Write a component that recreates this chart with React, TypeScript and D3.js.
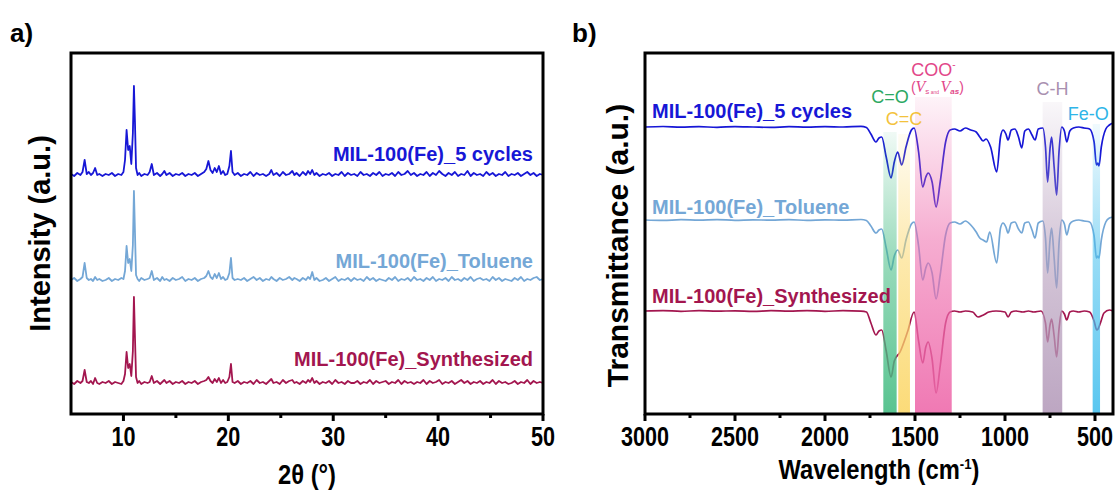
import React from "react";
import * as d3 from "d3";

// ---- panel a: XRD ----
const xrdTheta = [
  5.0, 5.3, 5.6, 5.9, 6.1, 6.3, 6.5, 6.7, 6.9, 7.1,
  7.3, 7.5, 7.7, 8.0, 8.3, 8.6, 8.9, 9.2, 9.5, 9.8,
  10.0, 10.15, 10.3, 10.45, 10.6, 10.75, 10.9, 11.0, 11.1, 11.2,
  11.35, 11.5, 11.7, 12.0, 12.3, 12.5, 12.7, 12.9, 13.2, 13.5,
  13.7, 13.9, 14.1, 14.4, 14.7, 15.0, 15.3, 15.6, 15.9, 16.2,
  16.5, 16.8, 17.1, 17.4, 17.7, 17.9, 18.1, 18.3, 18.5, 18.7,
  18.9, 19.1, 19.3, 19.5, 19.7, 19.9, 20.1, 20.25, 20.4, 20.6,
  20.9, 21.2, 21.5, 21.8, 22.1, 22.4, 22.7, 23.0, 23.3, 23.6,
  23.9, 24.1, 24.3, 24.6, 24.9, 25.2, 25.5, 25.8, 26.1, 26.3,
  26.5, 26.8, 27.1, 27.4, 27.6, 27.8, 28.0, 28.2, 28.4, 28.7,
  29.0, 29.3, 29.6, 29.9, 30.2, 30.5, 30.8, 31.1, 31.4, 31.7,
  32.0, 32.3, 32.6, 32.9, 33.2, 33.5, 33.8, 34.1, 34.4, 34.7,
  35.0, 35.3, 35.6, 35.9, 36.2, 36.5, 36.8, 37.1, 37.4, 37.7,
  38.0, 38.3, 38.6, 38.9, 39.2, 39.5, 39.8, 40.1, 40.4, 40.7,
  41.0, 41.3, 41.6, 41.9, 42.2, 42.5, 42.8, 43.1, 43.4, 43.7,
  44.0, 44.3, 44.6, 44.9, 45.2, 45.5, 45.8, 46.1, 46.4, 46.7,
  47.0, 47.3, 47.6, 47.9, 48.2, 48.5, 48.8, 49.1, 49.4, 49.7,
  50.0,
];

const xrdCycles = [
  4, 2, 5, 3, 6, 18, 4, 6, 3, 5,
  10, 3, 4, 2, 4, 3, 5, 2, 4, 3,
  6, 18, 48, 28, 32, 14, 45, 92, 55, 10,
  3, 5, 2, 4, 3, 6, 14, 3, 5, 2,
  4, 7, 3, 5, 2, 4, 3, 5, 2, 4,
  3, 5, 2, 4, 6, 9, 17, 8, 5, 10,
  6, 12, 4, 7, 3, 4, 12, 27, 6, 3,
  5, 2, 4, 3, 6, 2, 5, 3, 4, 2,
  4, 8, 3, 5, 2, 6, 3, 4, 7, 3,
  5, 2, 6, 3, 7, 4, 8, 3, 5, 2,
  4, 3, 5, 2, 4, 3, 6, 2, 5, 3,
  4, 2, 6, 3, 4, 2, 5, 3, 6, 2,
  4, 3, 5, 2, 6, 3, 4, 7, 3, 5,
  2, 4, 3, 6, 2, 5, 3, 7, 4, 2,
  5, 3, 6, 2, 4, 3, 7, 2, 5, 3,
  4, 2, 6, 3, 5, 2, 4, 3, 6, 2,
  4, 3, 5, 2, 4, 6, 3, 5, 2, 4,
  3,
];

const xrdToluene = [
  3, 5, 2, 4, 6, 20, 5, 3, 4, 2,
  6, 3, 4, 2, 3, 5, 2, 4, 3, 5,
  4, 12, 37, 20, 24, 12, 38, 92, 50, 8,
  4, 2, 5, 3, 4, 5, 12, 3, 5, 2,
  6, 3, 4, 2, 5, 3, 4, 6, 2, 4,
  3, 5, 2, 4, 5, 7, 12, 6, 4, 9,
  5, 10, 4, 6, 3, 4, 10, 25, 5, 3,
  4, 3, 5, 2, 4, 6, 3, 5, 2, 4,
  3, 6, 4, 2, 5, 3, 4, 6, 3, 5,
  4, 2, 5, 3, 6, 4, 11, 3, 5, 2,
  3, 5, 2, 4, 6, 2, 4, 3, 5, 2,
  5, 3, 4, 2, 6, 3, 5, 2, 4, 3,
  2, 5, 3, 6, 2, 4, 3, 5, 2, 6,
  3, 4, 2, 5, 3, 6, 2, 4, 3, 5,
  2, 6, 3, 4, 2, 5, 3, 6, 2, 4,
  5, 3, 4, 2, 6, 3, 5, 2, 4, 3,
  2, 5, 3, 6, 2, 4, 3, 5, 6, 3,
  4,
];

const xrdSynth = [
  4, 2, 5, 3, 5, 16, 4, 3, 5, 2,
  8, 3, 2, 4, 3, 5, 2, 4, 3, 2,
  5, 12, 34, 18, 22, 10, 35, 89, 48, 9,
  3, 5, 2, 4, 3, 4, 10, 3, 5, 2,
  4, 6, 3, 5, 2, 4, 3, 5, 2, 4,
  3, 5, 2, 4, 5, 6, 9, 5, 3, 7,
  4, 8, 3, 6, 3, 4, 9, 22, 4, 3,
  5, 2, 4, 3, 5, 2, 6, 3, 4, 2,
  5, 7, 3, 4, 2, 6, 3, 5, 6, 3,
  4, 2, 5, 3, 6, 4, 8, 3, 5, 2,
  4, 3, 5, 2, 6, 3, 4, 2, 5, 3,
  3, 5, 2, 4, 3, 6, 2, 5, 3, 4,
  5, 2, 4, 3, 6, 2, 5, 3, 4, 2,
  4, 3, 6, 2, 5, 3, 4, 6, 2, 4,
  3, 5, 2, 4, 6, 3, 5, 2, 4, 3,
  5, 2, 4, 3, 6, 2, 5, 3, 4, 2,
  3, 5, 2, 4, 3, 6, 2, 5, 3, 4,
  3,
];

const xrdTicks = [10, 20, 30, 40, 50];
const xrdMinor = [15, 25, 35, 45];

// ---- panel b: FTIR ----  [wavenumber, transmittance]
const ftirCycles = [
  [3000, 100], [2900, 100.5], [2800, 99.8], [2700, 100.3], [2600, 99.7], [2500, 100.4],
  [2400, 100], [2300, 99.6], [2200, 100.3], [2100, 99.8], [2000, 100.4], [1900, 100],
  [1800, 100.6], [1770, 99.5], [1745, 93], [1717, 85], [1700, 89], [1685, 90], [1660, 70],
  [1633, 49], [1615, 65], [1596, 75], [1574, 62], [1550, 80], [1520, 97], [1505, 99],
  [1480, 75], [1457, 40], [1440, 50], [1427, 54], [1405, 45], [1383, 20], [1360, 45],
  [1330, 85], [1305, 97], [1280, 98], [1250, 96], [1220, 99], [1190, 97], [1160, 95],
  [1140, 90], [1122, 86], [1105, 88], [1080, 80], [1046, 55], [1025, 90], [1011, 97],
  [995, 93], [983, 87], [965, 97], [945, 98], [925, 90], [907, 79], [890, 96], [870, 98],
  [850, 92], [833, 87], [815, 98], [790, 99], [775, 80], [763, 45], [750, 78], [741, 90],
  [727, 60], [713, 32], [700, 75], [685, 100], [670, 96], [657, 85], [640, 96], [620, 99],
  [590, 100], [560, 99], [530, 98], [505, 85], [492, 62], [485, 64], [478, 61], [465, 80],
  [440, 98], [420, 102], [400, 104],
];

const ftirToluene = [
  [3000, 100], [2900, 99.6], [2800, 100.3], [2700, 99.8], [2600, 100.4], [2500, 99.7],
  [2400, 100.2], [2300, 99.8], [2200, 100.4], [2100, 99.6], [2000, 100.2], [1900, 99.8],
  [1800, 100.5], [1770, 99.5], [1745, 94], [1717, 87], [1700, 90], [1685, 91], [1660, 72],
  [1633, 50], [1615, 64], [1596, 70], [1574, 62], [1550, 80], [1520, 96], [1505, 98],
  [1480, 74], [1457, 40], [1440, 52], [1427, 57], [1405, 47], [1383, 21], [1360, 45],
  [1330, 85], [1305, 97], [1280, 98], [1250, 96], [1220, 99], [1190, 95], [1160, 88],
  [1140, 82], [1122, 80], [1102, 78], [1085, 88], [1046, 57], [1025, 92], [1011, 97],
  [995, 93], [983, 87], [965, 97], [945, 98], [925, 91], [907, 87], [890, 97], [870, 98],
  [850, 90], [833, 82], [815, 97], [790, 99], [775, 82], [763, 47], [750, 80], [741, 92],
  [727, 62], [713, 32], [700, 76], [685, 100], [670, 96], [657, 85], [640, 96], [620, 99],
  [590, 100], [560, 99], [530, 98], [505, 84], [492, 62], [485, 64], [478, 62], [465, 80],
  [440, 98], [420, 102], [400, 103],
];

const ftirSynth = [
  [3000, 100], [2900, 100.4], [2800, 99.7], [2700, 100.3], [2600, 99.8], [2500, 100.2],
  [2400, 99.6], [2300, 100.3], [2200, 99.8], [2100, 100.4], [2000, 99.7], [1900, 100.3],
  [1800, 99.8], [1770, 99], [1745, 88], [1717, 76], [1700, 80], [1685, 81], [1660, 60],
  [1633, 34], [1615, 50], [1583, 59], [1540, 80], [1505, 99], [1480, 70], [1457, 48],
  [1440, 64], [1427, 69], [1405, 52], [1383, 18], [1360, 45], [1330, 88], [1305, 99],
  [1280, 100], [1250, 99], [1220, 100], [1180, 99], [1150, 94], [1120, 96], [1090, 99],
  [1050, 100], [1000, 99], [983, 94], [965, 99], [940, 100], [900, 99], [870, 100],
  [840, 99], [800, 100], [775, 88], [763, 69], [750, 86], [741, 92], [727, 75], [713, 54],
  [700, 82], [685, 100], [670, 97], [657, 91], [640, 99], [620, 100], [590, 99], [560, 100],
  [530, 99], [505, 90], [490, 81], [483, 82], [470, 88], [450, 98], [420, 101], [400, 100],
];

const ftirTicks = [3000, 2500, 2000, 1500, 1000, 500];
const ftirMinor = [2750, 2250, 1750, 1250, 750];

const bandNames = ["C=O", "C=C", "COO", "C-H", "Fe-O"];
const bandFrom = [1676, 1593, 1500, 791, 513];
const bandTo = [1602, 1528, 1296, 682, 472];

const seriesNames = ["MIL-100(Fe)_5 cycles", "MIL-100(Fe)_Toluene", "MIL-100(Fe)_Synthesized"];

// ---- styles ----
const seriesColors = ["#1717d6", "#74a7d6", "#a3164f"];
const bandColors = ["#46bd84", "#fbd769", "#ee6aab", "#b59cbb", "#46c0ee"];
const bandTextColors = ["#2ca862", "#f3c23c", "#e2478a", "#a990b0", "#2fb5e8"];
const bandTop = [132, 134, 97, 102, 124];
const bandLabelY = [103, 125, 76, 95, 120];
const bandLabelDx = [0, 0, 0, 0, -8];

const W = 1115;
const H = 491;
const frameTop = 53;
const frameBottom = 414;
const aLeft = 71;
const aRight = 543;
const bLeft = 645;
const bRight = 1113;

const xA = d3.scaleLinear().domain([5, 50]).range([aLeft, aRight]);
const yA = d3.scaleLinear().domain([0, 361]).range([frameBottom, frameTop]);
const xB = d3.scaleLinear().domain([3000, 400]).range([bLeft, bRight]);
const yB = d3.scaleLinear().domain([0, 361]).range([frameBottom, frameTop]);

const xrdOffsets = [236, 131, 28];
const ftirOffsets = [187, 94, 3];

const sans = "'Liberation Sans', Arial, Helvetica, sans-serif";
const serif = "'Liberation Serif', 'Times New Roman', serif";

// condensed bold text, like Arial Narrow
const Narrow = ({ x, y, size = 27, sx = 0.8, children }: any) => (
  <text transform={`translate(${x},${y}) scale(${sx},1)`} textAnchor="middle"
    fontFamily={sans} fontWeight="bold" fontSize={size}>{children}</text>
);

const App = () => {
  const xrdSets = [xrdCycles, xrdToluene, xrdSynth];
  const ftirSets = [ftirCycles, ftirToluene, ftirSynth];

  const xrdPath = (vals: number[], off: number) => {
    const n = Math.min(vals.length, xrdTheta.length);
    const pts = d3.range(n).map(i => [xrdTheta[i], vals[i]]);
    return d3
      .line<number[]>()
      .x(d => xA(d[0]))
      .y(d => yA(d[1] + off))(pts);
  };

  const ftirPath = (pts: number[][], off: number) =>
    d3
      .line<number[]>()
      .x(d => xB(d[0]))
      .y(d => yB(d[1] + off))
      .curve(d3.curveMonotoneX)(pts.slice().reverse());

  const xrdLabelY = [161, 268, 366];
  const ftirLabelY = [118, 214, 303];

  return (
    <svg width={W} height={H} style={{ display: "block", position: "absolute", left: 0, top: 0 }}>
      <defs>
        <clipPath id="clipA">
          <rect x={aLeft} y={frameTop} width={aRight - aLeft} height={frameBottom - frameTop} />
        </clipPath>
        <clipPath id="clipB">
          <rect x={bLeft} y={frameTop} width={bRight - bLeft} height={frameBottom - frameTop} />
        </clipPath>
        {bandColors.map((c, i) => (
          <linearGradient key={i} id={"band" + i} x1="0" y1="0" x2="0" y2="1">
            <stop offset="0" stopColor={c} stopOpacity={0.08} />
            <stop offset="0.45" stopColor={c} stopOpacity={0.55} />
            <stop offset="1" stopColor={c} stopOpacity={0.9} />
          </linearGradient>
        ))}
      </defs>

      <rect width={W} height={H} fill="#fff" />

      {/* panel labels */}
      <text x={10} y={42} fontFamily={sans} fontWeight="bold" fontSize={26}>a)</text>
      <text x={572} y={42} fontFamily={sans} fontWeight="bold" fontSize={26}>b)</text>

      {/* ---------- panel a ---------- */}
      <g clipPath="url(#clipA)">
        {xrdSets.map((vals, i) => (
          <path key={i} d={xrdPath(vals, xrdOffsets[i]) || ""} fill="none"
            stroke={seriesColors[i]} strokeWidth={1.8} strokeLinejoin="round" />
        ))}
      </g>
      {seriesNames.map((s, i) => (
        <text key={i} x={533} y={xrdLabelY[i]} textAnchor="end" fontFamily={sans}
          fontWeight="bold" fontSize={20} fill={seriesColors[i]}>{s}</text>
      ))}
      <rect x={aLeft} y={frameTop} width={aRight - aLeft} height={frameBottom - frameTop}
        fill="none" stroke="#000" strokeWidth={3} />
      {xrdTicks.map(t => (
        <g key={t}>
          <line x1={xA(t)} x2={xA(t)} y1={frameBottom} y2={frameBottom + 7} stroke="#000" strokeWidth={3} />
          <Narrow x={xA(t)} y={446}>{t}</Narrow>
        </g>
      ))}
      {xrdMinor.map(t => (
        <line key={t} x1={xA(t)} x2={xA(t)} y1={frameBottom} y2={frameBottom + 4} stroke="#000" strokeWidth={3} />
      ))}
      <Narrow x={(aLeft + aRight) / 2} y={484} sx={0.88}>2θ (°)</Narrow>
      <text transform={`translate(50,${(frameTop + frameBottom) / 2}) rotate(-90)`} textAnchor="middle"
        fontFamily={sans} fontWeight="bold" fontSize={29}>Intensity (a.u.)</text>

      {/* ---------- panel b ---------- */}
      <g clipPath="url(#clipB)">
        {ftirSets.map((pts, i) => (
          <path key={i} d={ftirPath(pts, ftirOffsets[i]) || ""} fill="none"
            stroke={seriesColors[i]} strokeWidth={1.7} strokeLinejoin="round" />
        ))}
        {bandNames.map((b, i) => (
          <rect key={b} x={xB(bandFrom[i])} width={xB(bandTo[i]) - xB(bandFrom[i])}
            y={bandTop[i]} height={frameBottom - bandTop[i]} fill={`url(#band${i})`} />
        ))}
      </g>
      {bandNames.map((b, i) => {
        const cx = (xB(bandFrom[i]) + xB(bandTo[i])) / 2 + bandLabelDx[i];
        if (b === "COO") {
          return (
            <g key={b} fill={bandTextColors[i]}>
              <text x={cx} y={bandLabelY[i]} textAnchor="middle" fontFamily={sans} fontSize={18}>
                COO<tspan fontSize={10} dy={-8}>-</tspan>
              </text>
              <text x={cx + 4} y={bandLabelY[i] + 16} textAnchor="middle" fontFamily={sans} fontSize={14}>
                (<tspan fontFamily={serif} fontStyle="italic" fontSize={16}>V</tspan>
                <tspan fontSize={8} dy={2}>s</tspan>
                <tspan fontSize={5}> and </tspan>
                <tspan fontFamily={serif} fontStyle="italic" fontSize={16} dy={-2}>V</tspan>
                <tspan fontSize={8} dy={2} fontStyle="italic" fontWeight="bold">as</tspan>
                <tspan dy={-2}>)</tspan>
              </text>
            </g>
          );
        }
        return (
          <text key={b} x={cx} y={bandLabelY[i]} textAnchor="middle" fontFamily={sans}
            fontSize={18} fill={bandTextColors[i]}>{b}</text>
        );
      })}
      {seriesNames.map((s, i) => (
        <text key={i} x={652} y={ftirLabelY[i]} fontFamily={sans}
          fontWeight="bold" fontSize={20} fill={seriesColors[i]}>{s}</text>
      ))}
      <rect x={bLeft} y={frameTop} width={bRight - bLeft} height={frameBottom - frameTop}
        fill="none" stroke="#000" strokeWidth={3} />
      {ftirTicks.map(t => (
        <g key={t}>
          <line x1={xB(t)} x2={xB(t)} y1={frameBottom} y2={frameBottom + 7} stroke="#000" strokeWidth={3} />
          <Narrow x={xB(t)} y={446}>{t}</Narrow>
        </g>
      ))}
      {ftirMinor.map(t => (
        <line key={t} x1={xB(t)} x2={xB(t)} y1={frameBottom} y2={frameBottom + 4} stroke="#000" strokeWidth={3} />
      ))}
      <Narrow x={(bLeft + bRight) / 2} y={479} sx={0.88}>
        Wavelength (cm<tspan fontSize={15} dy={-10}>-1</tspan><tspan dy={10}>)</tspan>
      </Narrow>
      <text transform={`translate(628,${(frameTop + frameBottom) / 2 + 12}) rotate(-90)`} textAnchor="middle"
        fontFamily={sans} fontWeight="bold" fontSize={30}>Transmittance (a.u.)</text>
    </svg>
  );
};

export default App;
